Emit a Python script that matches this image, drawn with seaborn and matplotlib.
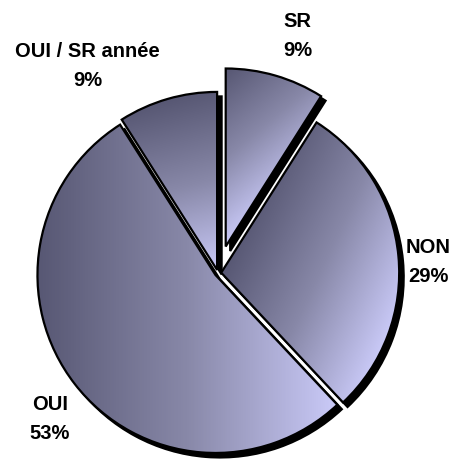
import numpy as np
import matplotlib
matplotlib.use("Agg")
import matplotlib.pyplot as plt
from matplotlib.patches import Wedge
import seaborn as sns

# ---- data ----
categories = ["SR", "NON", "OUI", "OUI / SR année"]
values = [9, 29, 53, 9]

# ---- style / layout ----
sns.set_theme(style="white")
plt.rcParams['font.family'] = ['Liberation Sans', 'DejaVu Sans']

W, H = 453, 463
fig = plt.figure(figsize=(W / 100, H / 100), dpi=100)
ax = fig.add_axes([0, 0, 1, 1])

dark, light = "#575773", "#cacaf8"
cmap = sns.blend_palette([dark, "#8888a8", light], as_cmap=True)

explode = [0.155, 0.018, 0.018, 0.018]
grad_angles = [-50, -25, 0, -75]   # gradient direction (dark -> light), degrees

wedges, _ = ax.pie(values, explode=explode, startangle=90, counterclock=False,
                   radius=1,
                   wedgeprops=dict(edgecolor="black", linewidth=1.6,
                                   facecolor="none", zorder=3))

# pixel mapping: pie centre at (218, 273) from top-left, radius 178 px
cxp, cyp, Rp = 218, 273, 178
xmin, xmax = -cxp / Rp, (W - cxp) / Rp
ymin, ymax = -(H - cyp) / Rp, cyp / Rp
ax.set_xlim(xmin, xmax)
ax.set_ylim(ymin, ymax)
ax.set_aspect("auto")
ax.axis("off")

gx = np.linspace(xmin, xmax, 500)
gy = np.linspace(ymin, ymax, 500)
X, Y = np.meshgrid(gx, gy)
sh = 4.5 / Rp  # shadow offset

for w, ang in zip(wedges, grad_angles):
    cx, cy = w.center
    shadow = Wedge((cx + sh, cy - sh), w.r, w.theta1, w.theta2,
                   facecolor="black", edgecolor="black", linewidth=1.6, zorder=1)
    ax.add_patch(shadow)
    d = np.array([np.cos(np.radians(ang)), np.sin(np.radians(ang))])
    verts = w.get_path().vertices
    proj = verts @ d
    pmin, pmax = proj.min(), proj.max()
    Z = np.clip((X * d[0] + Y * d[1] - pmin) / (pmax - pmin), 0, 1)
    im = ax.imshow(Z, cmap=cmap, extent=[xmin, xmax, ymin, ymax], origin="lower",
                   aspect="auto", zorder=2, interpolation="bilinear", vmin=0, vmax=1)
    im.set_clip_path(w)

ax.set_xlim(xmin, xmax)
ax.set_ylim(ymin, ymax)

# labels: (x centre, first baseline) in pixels from top-left
label_pos = [(297.5, 27), (428.5, 253), (50, 410), (87.5, 57)]
line_gap = 29
for cat, v, (lx, ly) in zip(categories, values, label_pos):
    for i, txt in enumerate([cat, f"{v}%"]):
        fig.text(lx / W, 1 - (ly + i * line_gap) / H, txt, ha="center", va="baseline",
                 fontsize=14.5, fontweight="bold", color="black")

fig.savefig("out.png", dpi=100, facecolor="white")
